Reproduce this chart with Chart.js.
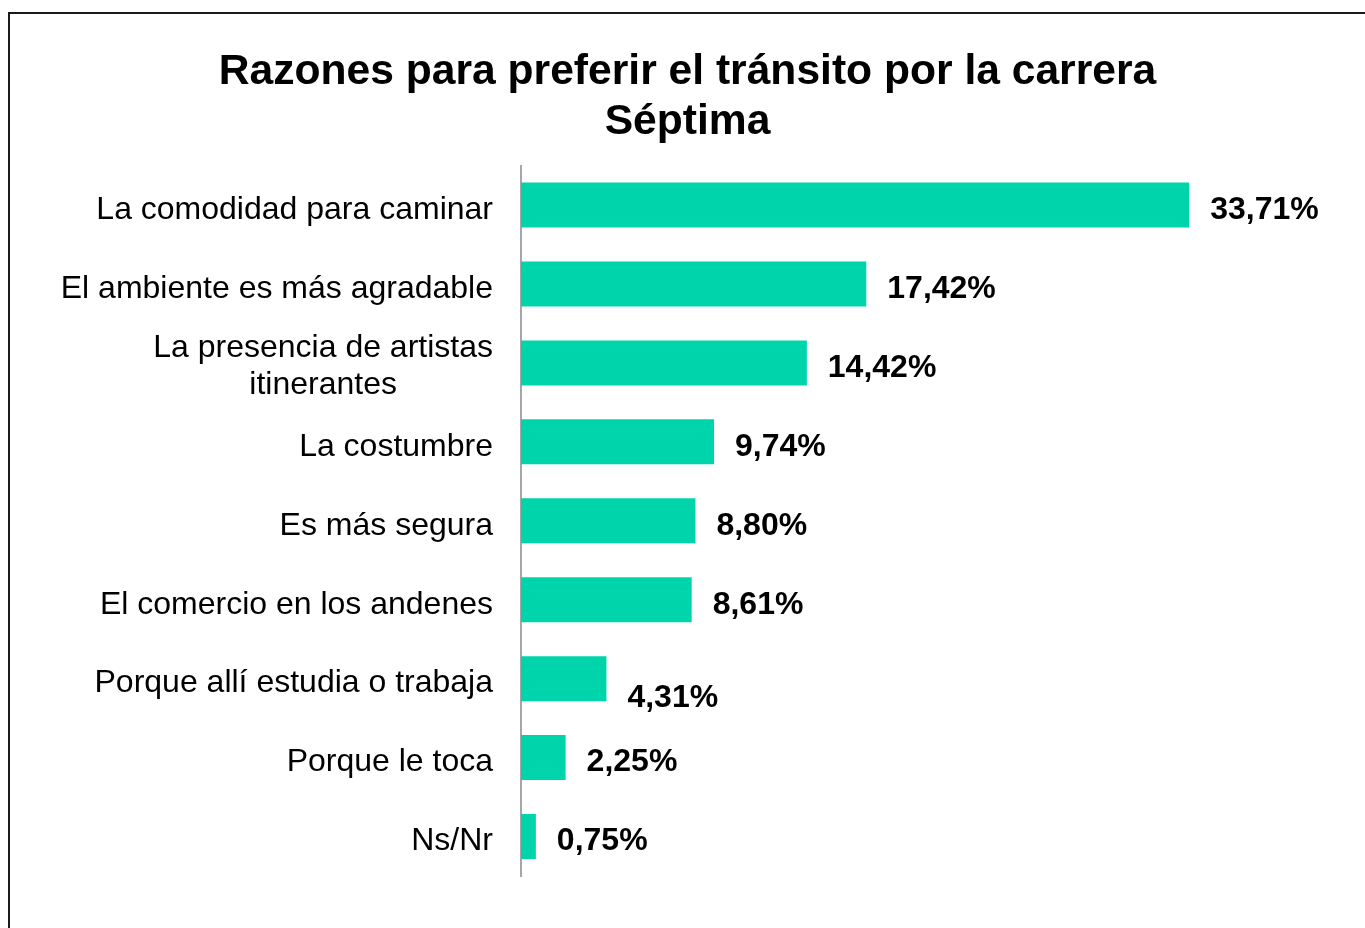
<!DOCTYPE html>
<html>
<head>
<meta charset="utf-8">
<script src="https://cdn.jsdelivr.net/npm/chart.js@4/dist/chart.umd.min.js"></script>
<style>
html,body{margin:0;padding:0;background:#fff;}
#wrap{width:1365px;height:928px;position:relative;}
</style>
</head>
<body>
<div id="wrap"><canvas id="c" width="1365" height="928"></canvas></div>
<script>
const categories = [
  ["La comodidad para caminar"],
  ["El ambiente es más agradable"],
  ["La presencia de artistas", "itinerantes"],
  ["La costumbre"],
  ["Es más segura"],
  ["El comercio en los andenes"],
  ["Porque allí estudia o trabaja"],
  ["Porque le toca"],
  ["Ns/Nr"]
];
const values = [33.71, 17.42, 14.42, 9.74, 8.80, 8.61, 4.31, 2.25, 0.75];
const titleLines = ["Razones para preferir el tránsito por la carrera", "Séptima"];

const FONT = "'Liberation Sans', Arial, sans-serif";
const barColor = "#00D4AA";

const fmt = v => v.toFixed(2).replace('.', ',') + '%';

const customDraw = {
  id: 'customDraw',
  afterDraw(chart) {
    const ctx = chart.ctx;
    const y = chart.scales.y;
    const meta = chart.getDatasetMeta(0);
    ctx.save();
    // frame
    ctx.strokeStyle = '#1a1a1a';
    ctx.lineWidth = 2;
    ctx.beginPath();
    ctx.moveTo(9, 929);
    ctx.lineTo(9, 13);
    ctx.lineTo(1366, 13);
    ctx.stroke();
    // category labels
    ctx.fillStyle = '#000';
    ctx.font = '32px ' + FONT;
    ctx.textBaseline = 'middle';
    const right = chart.chartArea.left - 28;
    categories.forEach((lines, i) => {
      const cy = y.getPixelForValue(i);
      if (lines.length === 1) {
        ctx.textAlign = 'right';
        ctx.fillText(lines[0], right, cy + 5);
      } else {
        const lh = 37;
        const maxW = Math.max(...lines.map(l => ctx.measureText(l).width));
        const cx = right - maxW / 2;
        ctx.textAlign = 'center';
        const startY = cy + 4 - (lines.length - 1) * lh / 2;
        lines.forEach((l, k) => ctx.fillText(l, cx, startY + k * lh));
      }
    });
    // value labels
    ctx.font = 'bold 32px ' + FONT;
    ctx.textAlign = 'left';
    meta.data.forEach((bar, i) => {
      const dy = (i === 6) ? 20 : 5;
      ctx.fillText(fmt(values[i]), bar.x + 21, bar.y + dy);
    });
    ctx.restore();
  }
};

new Chart(document.getElementById('c'), {
  type: 'bar',
  data: {
    labels: categories.map(c => c.join(' ')),
    datasets: [{
      data: values,
      backgroundColor: barColor,
      borderWidth: 0,
      barPercentage: 0.57,
      categoryPercentage: 1.0
    }]
  },
  options: {
    indexAxis: 'y',
    responsive: false,
    animation: false,
    devicePixelRatio: 1,
    layout: { padding: { left: 10, right: 0, top: 0, bottom: 52 } },
    plugins: {
      legend: { display: false },
      tooltip: { enabled: false },
      title: {
        display: true,
        text: titleLines,
        color: '#000',
        font: { family: FONT, size: 42.6, weight: 'bold', lineHeight: 1.18 },
        padding: { top: 47, bottom: 18 }
      }
    },
    scales: {
      x: {
        display: false,
        min: 0,
        max: 42.58
      },
      y: {
        display: true,
        ticks: { display: false },
        grid: { display: false, drawTicks: false },
        border: { display: true, color: '#A6A6A6', width: 2 },
        afterFit(scale) { scale.width = 511; }
      }
    }
  },
  plugins: [customDraw]
});
</script>
</body>
</html>
